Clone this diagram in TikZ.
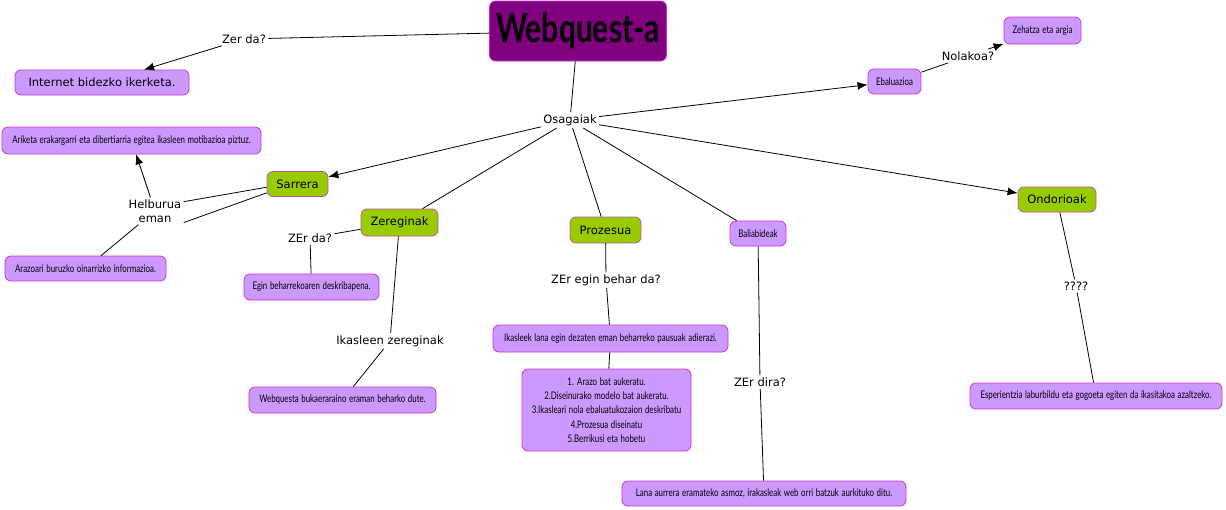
\documentclass[tikz,border=0pt]{standalone}
\usepackage{fontspec}
\setmainfont{DejaVu Sans}
\newfontfamily\condfont[FakeStretch=0.75,WordSpace=1.3]{Lato}
\usetikzlibrary{arrows.meta,positioning}
\definecolor{lila}{HTML}{CC99FF}
\definecolor{lilaline}{HTML}{CC33CC}
\definecolor{berde}{HTML}{99CC00}
\definecolor{morea}{HTML}{800080}

\begin{document}
\begin{tikzpicture}[
  x=1pt, y=-1pt,
  font=\fontsize{11.5}{13.5}\selectfont,
  line width=0.8pt,
  concept/.style={draw=lilaline, fill=lila, rounded corners=6pt, minimum height=25pt, inner xsep=7pt, align=center, font=\condfont\fontsize{10.5}{14.4}\selectfont},
  gakoa/.style={draw=lilaline!80!berde, fill=berde, rounded corners=6pt, minimum height=25pt, inner xsep=7pt},
  link/.style={inner sep=2pt, align=center},
  arr/.style={-{Latex[length=10pt,width=8pt]}}
]
\useasboundingbox (0,0) rectangle (1226,509);

% concepts
\node[draw=lilaline, fill=morea, rounded corners=6pt, minimum width=177pt, minimum height=60pt, font=\condfont\bfseries\fontsize{40}{44}\selectfont] (webq) at (578,31) {Webquest-a};
\node[concept, minimum width=174pt, font=\fontsize{11.5}{13.5}\selectfont] (internet) at (102,82.5) {Internet bidezko ikerketa.};
\node[concept, minimum width=53pt] (ebal) at (894.5,81.5) {Ebaluazioa};
\node[concept, minimum width=77pt, minimum height=27pt] (zehatza) at (1042.5,30.5) {Zehatza eta argia};
\node[concept, minimum width=259pt, minimum height=27pt] (ariketa) at (131.5,140.5) {Ariketa erakargarri eta dibertiarria egitea ikasleen motibazioa piztuz.};
\node[gakoa, minimum width=61pt] (sarrera) at (297.5,184) {Sarrera};
\node[concept, minimum width=161pt] (arazoari) at (85.5,268.5) {Arazoari buruzko oinarrizko informazioa.};
\node[gakoa, minimum width=77pt, minimum height=27pt] (zereg) at (399.5,222.5) {Zereginak};
\node[concept, minimum width=135pt, minimum height=26pt] (egin) at (311.5,287) {Egin beharrekoaren deskribapena.};
\node[concept, minimum width=187pt, minimum height=26pt] (webquesta) at (342.5,400) {Webquesta bukaeraraino eraman beharko dute.};
\node[gakoa, minimum width=71pt, minimum height=26pt] (prozesua) at (605.5,230) {Prozesua};
\node[concept, minimum width=235pt, minimum height=27pt] (ikasleek) at (610.5,338.5) {Ikasleek lana egin dezaten eman beharreko pausuak adierazi.};
\node[concept, minimum width=169pt, minimum height=82pt] (pausuak) at (606.5,410) {1. Arazo bat aukeratu.\\2.Diseinurako modelo bat aukeratu.\\3.Ikasleari nola ebaluatukozaion deskribatu\\4.Prozesua diseinatu\\5.Berrikusi eta hobetu};
\node[concept, minimum width=56pt] (baliab) at (758,233.5) {Baliabideak};
\node[concept, minimum width=284pt] (lana) at (764,493.5) {Lana aurrera eramateko asmoz, irakasleak web orri batzuk aurkituko ditu.};
\node[gakoa, minimum width=78pt] (ondor) at (1057,199.5) {Ondorioak};
\node[concept, minimum width=252pt, minimum height=26pt] (esper) at (1096,396) {Esperientzia laburbildu eta gogoeta egiten da ikasitakoa azaltzeko.};

% linking phrases
\node[link] (zerda) at (244,39) {Zer da?};
\node[link] (osag) at (570,120) {Osagaiak};
\node[link] (nolakoa) at (968,56) {Nolakoa?};
\node[link] (helb) at (155,211) {Helburua\\eman};
\node[link] (zerda2) at (310,238) {ZEr da?};
\node[link] (ikzereg) at (390,341) {Ikasleen zereginak};
\node[link] (zeregin) at (606,280) {ZEr egin behar da?};
\node[link] (zerdira) at (760,382) {ZEr dira?};
\node[link] (galdera) at (1076,286) {????};

% connectors
\draw (webq) -- (zerda);
\draw[arr] (zerda) -- (internet);
\draw (webq) -- (osag);
\draw[arr] (osag) -- (ebal);
\draw (ebal) -- (nolakoa);
\draw[arr] (nolakoa) -- (zehatza);
\draw[arr] (osag) -- (sarrera);
\draw (osag) -- (zereg);
\draw (osag) -- (prozesua);
\draw (osag) -- (baliab);
\draw[arr] (osag) -- (ondor);
\draw (sarrera.186) -- (helb.18);
\draw (sarrera.196) -- (helb.-22);
\draw[arr] (helb) -- (ariketa);
\draw (helb) -- (arazoari);
\draw (zereg) -- (zerda2);
\draw (zerda2) -- (egin);
\draw (zereg) -- (ikzereg);
\draw (ikzereg) -- (webquesta);
\draw (prozesua) -- (zeregin);
\draw (zeregin) -- (ikasleek);
\draw (ikasleek) -- (pausuak);
\draw (baliab) -- (zerdira);
\draw (zerdira) -- (lana);
\draw (ondor) -- (galdera);
\draw (galdera) -- (esper);
\end{tikzpicture}
\end{document}
